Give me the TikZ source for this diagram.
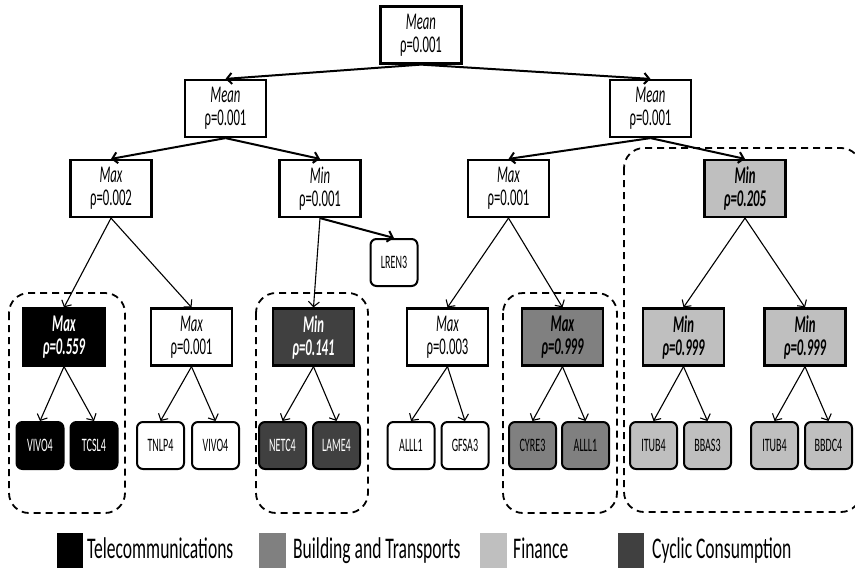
\documentclass[tikz,border=0pt]{standalone}
\usepackage{fontspec}
\setmainfont{Carlito}[FakeStretch=0.53]
\newfontfamily\legfont{Carlito}[FakeStretch=0.585]
\usetikzlibrary{arrows.meta}
\definecolor{cTel}{gray}{0}
\definecolor{cBuild}{gray}{0.5}
\definecolor{cFin}{gray}{0.75}
\definecolor{cCyc}{gray}{0.25}
\tikzset{
  opbox/.style={draw, line width=2.2pt, minimum width=81pt, minimum height=57pt, inner sep=0pt, align=center, font=\fontsize{24}{23}\selectfont},
  opcol/.style={opbox, font=\fontsize{24}{23}\selectfont\bfseries\itshape},
  leaf/.style={draw, rounded corners=6pt, line width=2pt, minimum width=47pt, minimum height=47pt, inner sep=0pt, font=\fontsize{19}{20}\selectfont},
  arr/.style={-{Straight Barb[length=5pt,width=11pt]}, line width=1.1pt},
  tarr/.style={-{Straight Barb[length=5pt,width=11pt]}, line width=2pt},
  grp/.style={draw, dash pattern=on 7pt off 5pt, line width=1.8pt, rounded corners=20pt},
  legtext/.style={anchor=base west, inner sep=0pt, font=\legfont\fontsize{30}{32}\selectfont}
}
\newcommand{\opw}[2]{{\itshape #1}\\#2}
\newcommand{\opc}[2]{#1\\#2}
\begin{document}
\begin{tikzpicture}[x=1pt,y=-1pt]
\useasboundingbox (0,0) rectangle (855,568);
% groups
\draw[grp] (9,293) rectangle (125,513);
\draw[grp] (256,293) rectangle (368,513);
\draw[grp] (503,293) rectangle (617,513);
\draw[grp] (624,148) rectangle (861,512);
% level 0,1,2
\node[opbox] (root) at (421,35) {\opw{Mean}{ρ=0.001}};
\node[opbox] (m1) at (225.5,108.5) {\opw{Mean}{ρ=0.001}};
\node[opbox] (m2) at (650.5,108.5) {\opw{Mean}{ρ=0.001}};
\node[opbox] (a) at (111,188.5) {\opw{Max}{ρ=0.002}};
\node[opbox] (b) at (320,188.5) {\opw{Min}{ρ=0.001}};
\node[opbox] (c) at (508.5,188.5) {\opw{Max}{ρ=0.001}};
\node[opcol, fill=cFin] (d) at (745,188.5) {\opc{Min}{ρ=0.205}};
\node[leaf] (lren) at (394,262.5) {LREN3};
% level 3
\node[opcol, fill=cTel, text=white] (g1) at (64,337) {\opc{Max}{ρ=0.559}};
\node[opbox] (g2) at (191.5,337) {\opw{Max}{ρ=0.001}};
\node[opcol, fill=cCyc, text=white] (g3) at (313.5,337) {\opc{Min}{ρ=0.141}};
\node[opbox] (g4) at (447.5,337) {\opw{Max}{ρ=0.003}};
\node[opcol, fill=cBuild] (g5) at (562.5,337) {\opc{Max}{ρ=0.999}};
\node[opcol, fill=cFin] (g6) at (683.5,337) {\opc{Min}{ρ=0.999}};
\node[opcol, fill=cFin] (g7) at (805,337) {\opc{Min}{ρ=0.999}};
% leaves
\node[leaf, fill=cTel, text=white] (l1) at (40,445.5) {VIVO4};
\node[leaf, fill=cTel, text=white] (l2) at (94,445.5) {TCSL4};
\node[leaf] (l3) at (160.5,445.5) {TNLP4};
\node[leaf] (l4) at (215.5,445.5) {VIVO4};
\node[leaf, fill=cCyc, text=white] (l5) at (282.5,445.5) {NETC4};
\node[leaf, fill=cCyc, text=white] (l6) at (336.5,445.5) {LAME4};
\node[leaf] (l7) at (411,445.5) {ALLL1};
\node[leaf] (l8) at (465,445.5) {GFSA3};
\node[leaf, fill=cBuild] (l9) at (532.5,445.5) {CYRE3};
\node[leaf, fill=cBuild] (l10) at (585.5,445.5) {ALLL1};
\node[leaf, fill=cFin] (l11) at (653.5,445.5) {ITUB4};
\node[leaf, fill=cFin] (l12) at (707.5,445.5) {BBAS3};
\node[leaf, fill=cFin] (l13) at (774.5,445.5) {ITUB4};
\node[leaf, fill=cFin] (l14) at (828.5,445.5) {BBDC4};
% connectors
\draw[tarr] (root.south) -- (m1.north);
\draw[tarr] (root.south) -- (m2.north);
\draw[tarr] (m1.south) -- (a.north);
\draw[tarr] (m1.south) -- (b.north);
\draw[tarr] (m2.south) -- (c.north);
\draw[tarr] (m2.south) -- (d.north);
\draw[tarr] (b.south) -- (lren.north);
\draw[arr] (a.south) -- (g1.north);
\draw[arr] (a.south) -- (g2.north);
\draw[arr] (b.south) -- (g3.north);
\draw[arr] (c.south) -- (g4.north);
\draw[arr] (c.south) -- (g5.north);
\draw[arr] (d.south) -- (g6.north);
\draw[arr] (d.south) -- (g7.north);
\draw[arr] (g1.south) -- (l1.north);
\draw[arr] (g1.south) -- (l2.north);
\draw[arr] (g2.south) -- (l3.north);
\draw[arr] (g2.south) -- (l4.north);
\draw[arr] (g3.south) -- (l5.north);
\draw[arr] (g3.south) -- (l6.north);
\draw[arr] (g4.south) -- (l7.north);
\draw[arr] (g4.south) -- (l8.north);
\draw[arr] (g5.south) -- (l9.north);
\draw[arr] (g5.south) -- (l10.north);
\draw[arr] (g6.south) -- (l11.north);
\draw[arr] (g6.south) -- (l12.north);
\draw[arr] (g7.south) -- (l13.north);
\draw[arr] (g7.south) -- (l14.north);
% legend
\fill[cTel] (57,533) rectangle (83,570);
\node[legtext] (t1) at (87,558) {Telecommunications};
\fill[cBuild] (259,533) rectangle (286,570);
\node[legtext] (t2) at (293,558) {Building and Transports};
\fill[cFin] (480,533) rectangle (507,570);
\node[legtext] (t3) at (513,558) {Finance};
\fill[cCyc] (618,533) rectangle (644,570);
\node[legtext] (t4) at (652,558) {Cyclic Consumption};
\end{tikzpicture}
\end{document}
